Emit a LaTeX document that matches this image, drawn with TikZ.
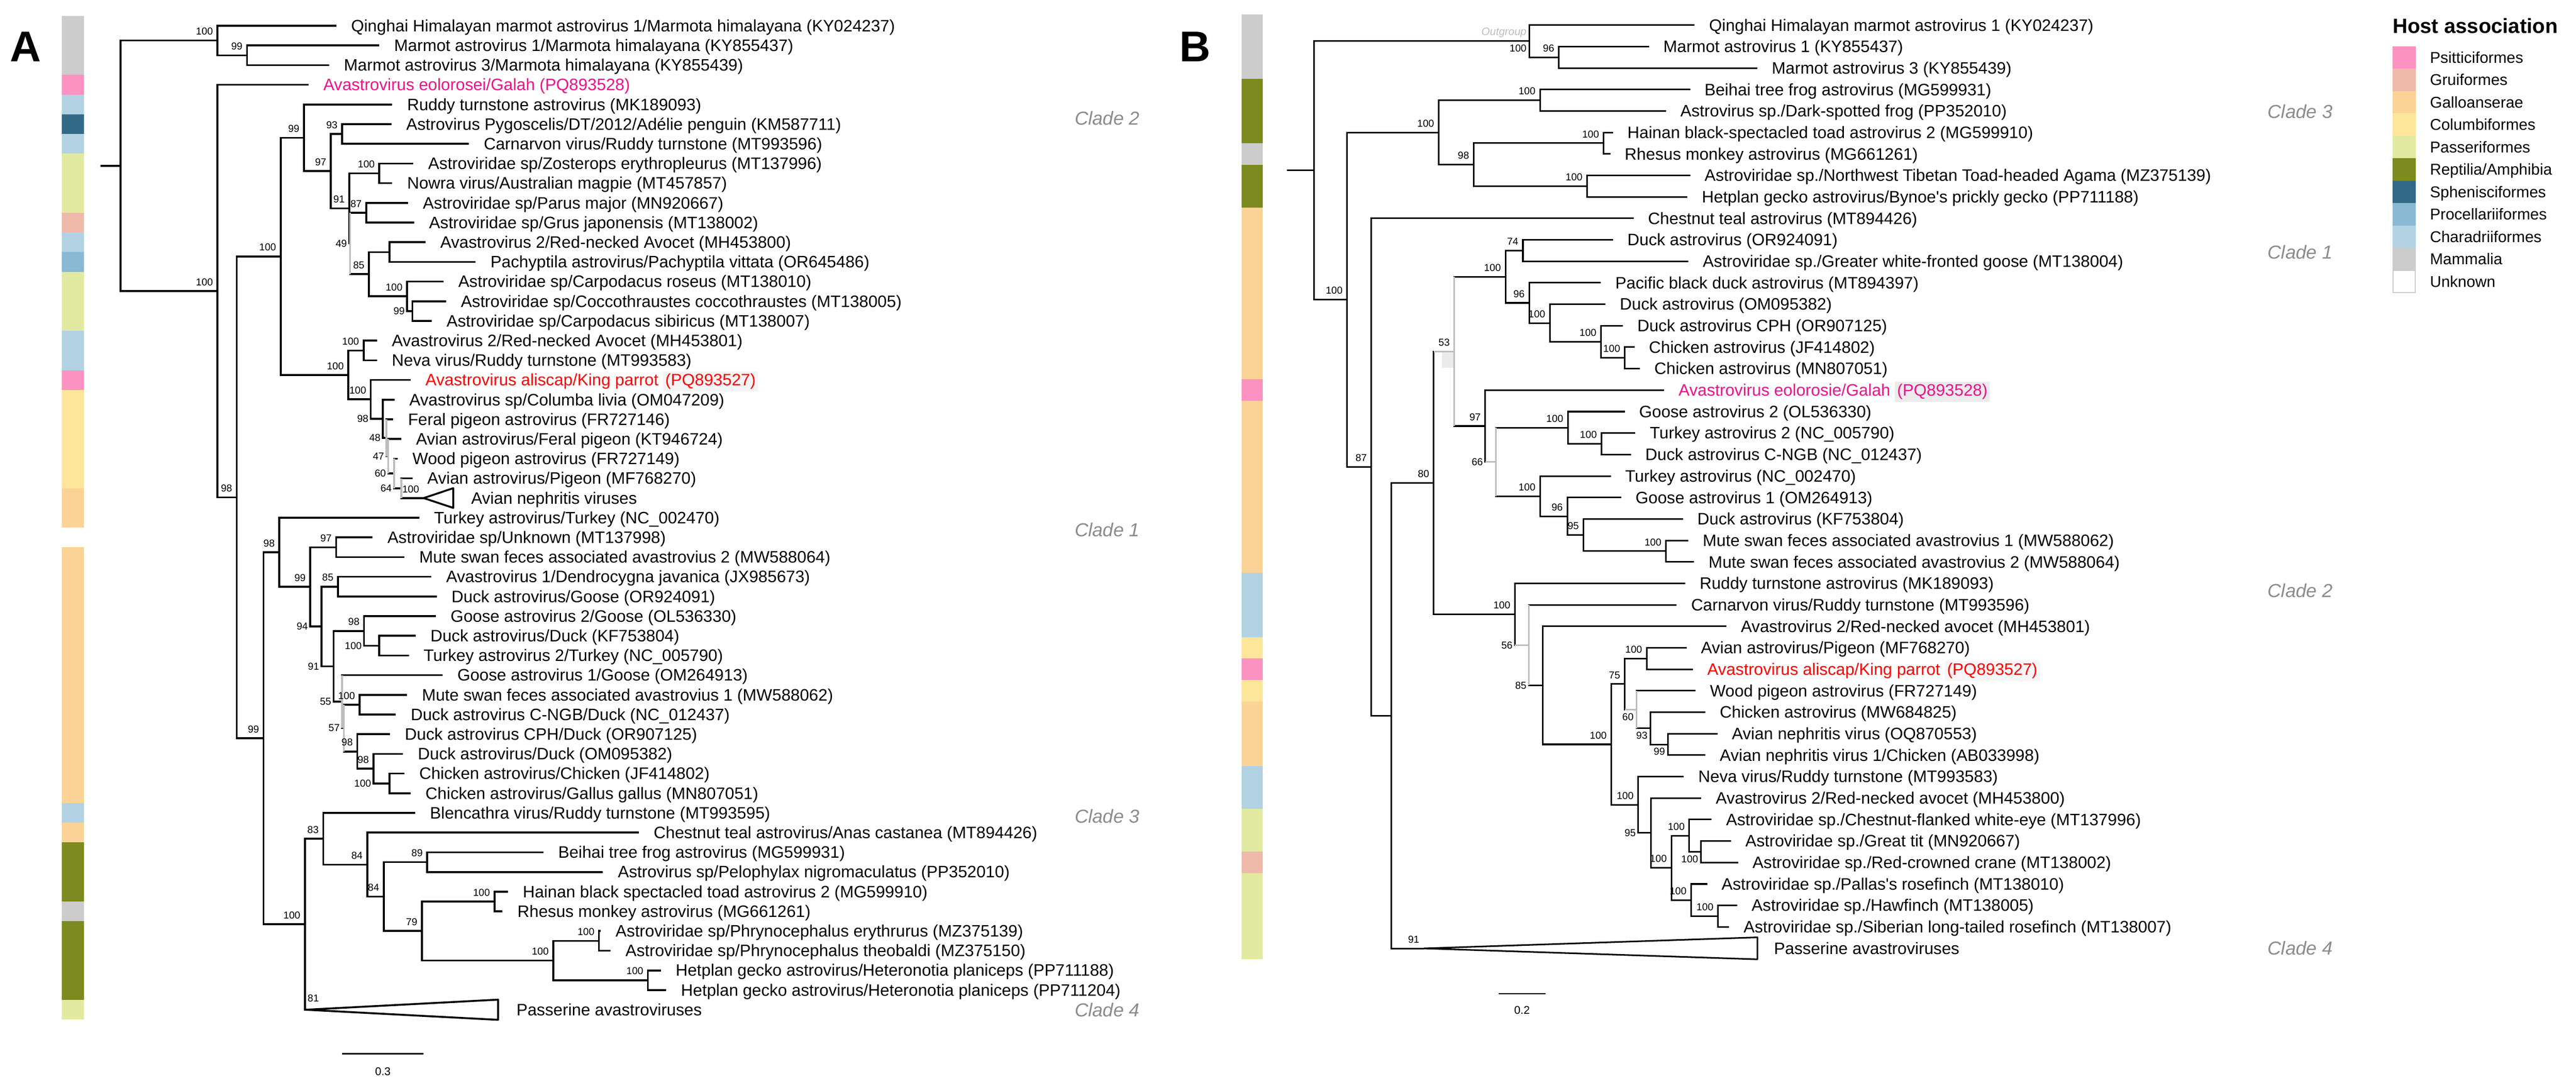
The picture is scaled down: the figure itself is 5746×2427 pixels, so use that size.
\documentclass[tikz,border=0pt]{standalone}
\usepackage{fontspec}
\setmainfont{Liberation Sans}
\usepackage{tikz}
\usetikzlibrary{calc}

\definecolor{cPsi}{HTML}{FC92C1}
\definecolor{cGru}{HTML}{EFB9AA}
\definecolor{cGal}{HTML}{FBD396}
\definecolor{cCol}{HTML}{FDE59A}
\definecolor{cPas}{HTML}{E2EAA1}
\definecolor{cRep}{HTML}{7C8A1F}
\definecolor{cSph}{HTML}{336A87}
\definecolor{cPro}{HTML}{8AB9D4}
\definecolor{cCha}{HTML}{B2D2E3}
\definecolor{cMam}{HTML}{CCCCCC}
\definecolor{cUnk}{HTML}{FFFFFF}
\definecolor{galah}{HTML}{EE1289}
\definecolor{parrot}{HTML}{FF0000}
\definecolor{cladegray}{HTML}{8C8C8C}
\definecolor{lowgray}{HTML}{BDBDBD}
\definecolor{hlA}{HTML}{F4F4F4}
\definecolor{hlB}{HTML}{EBEBEB}
\definecolor{hlC}{HTML}{F6F6F6}

\tikzset{brA/.style={line width=4.2pt}}
\tikzset{brB/.style={line width=3.5pt}}
\tikzset{lowA/.style={brA,draw=lowgray}}
\tikzset{lowB/.style={brB,draw=lowgray}}
\tikzset{lfA/.style={anchor=base west,inner sep=0pt,xshift=33pt,yshift=-13pt,font=\fontsize{37}{40}\selectfont}}
\tikzset{lfB/.style={anchor=base west,inner sep=0pt,xshift=32pt,yshift=-13pt,font=\fontsize{37}{40}\selectfont}}
\tikzset{sup/.style={anchor=south east,inner sep=0pt,xshift=-10pt,yshift=12pt,font=\fontsize{22.5}{24}\selectfont}}
\tikzset{supl/.style={anchor=east,inner sep=0pt,xshift=-5pt,font=\fontsize{22.5}{24}\selectfont}}
\tikzset{supd/.style={anchor=north east,inner sep=0pt,xshift=-6pt,yshift=-8pt,font=\fontsize{22.5}{24}\selectfont}}
\tikzset{clade/.style={anchor=base west,inner sep=0pt,yshift=-15pt,font=\fontsize{42}{44}\selectfont\itshape,text=cladegray}}
\tikzset{legtxt/.style={anchor=base west,inner sep=0pt,yshift=-12.5pt,font=\fontsize{35}{37}\selectfont}}

\newcommand{\hlbox}[2]{{\setlength{\fboxsep}{5pt}\colorbox{#1}{#2}}}
\newcommand{\leafA}[3]{\coordinate (a#2) at (#1,{57.5+43.9*(#2-1)}); \node[lfA] (ta#2) at (a#2) {#3};}
\newcommand{\leafB}[3]{\coordinate (b#2) at (#1,{56+47.9*(#2-1)}); \node[lfB] (tb#2) at (b#2) {#3};}

\begin{document}
\begin{tikzpicture}[x=1pt,y=-1pt]
\useasboundingbox (0,0) rectangle (5746,2427);

%% panel letters
\node[anchor=base west,inner sep=0pt,font=\bfseries\fontsize{96}{100}\selectfont] (pA) at (22,137) {A};
\node[anchor=base west,inner sep=0pt,font=\bfseries\fontsize{96}{100}\selectfont] (pB) at (2631,137) {B};

%% host colour bars
\foreach \c [count=\i] in {Mam,Mam,Mam,Psi,Cha,Sph,Cha,Pas,Pas,Pas,Gru,Cha,Pro,Pas,Pas,Pas,Cha,Cha,Psi,Col,Col,Col,Col,Col,Gal,Gal,Unk,Gal,Gal,Gal,Gal,Gal,Gal,Gal,Gal,Gal,Gal,Gal,Gal,Gal,Cha,Gal,Rep,Rep,Rep,Mam,Rep,Rep,Rep,Rep,Pas}
  \fill[c\c] (138,{35.5+43.9*(\i-1)}) rectangle ++(49,43.9);
\foreach \c [count=\i] in {Mam,Mam,Mam,Rep,Rep,Rep,Mam,Rep,Rep,Gal,Gal,Gal,Gal,Gal,Gal,Gal,Gal,Psi,Gal,Gal,Gal,Gal,Gal,Gal,Gal,Gal,Cha,Cha,Cha,Col,Psi,Col,Gal,Gal,Gal,Cha,Cha,Pas,Pas,Gru,Pas,Pas,Pas,Pas}
  \fill[c\c] (2769,{32+47.9*(\i-1)}) rectangle ++(48,47.9);

%% ---------------- panel A ----------------
\leafA{750}{1}{Qinghai Himalayan marmot astrovirus 1/Marmota himalayana (KY024237)}
\leafA{846}{2}{Marmot astrovirus 1/Marmota himalayana (KY855437)}
\leafA{734}{3}{Marmot astrovirus 3/Marmota himalayana (KY855439)}
\leafA{688}{4}{\textcolor{galah}{Avastrovirus eolorosei/Galah (PQ893528)}}
\leafA{875}{5}{Ruddy turnstone astrovirus (MK189093)}
\leafA{873}{6}{Astrovirus Pygoscelis/DT/2012/Adélie penguin (KM587711)}
\leafA{1046}{7}{Carnarvon virus/Ruddy turnstone (MT993596)}
\leafA{922}{8}{Astroviridae sp/Zosterops erythropleurus (MT137996)}
\leafA{875}{9}{Nowra virus/Australian magpie (MT457857)}
\leafA{910}{10}{Astroviridae sp/Parus major (MN920667)}
\leafA{924}{11}{Astroviridae sp/Grus japonensis (MT138002)}
\leafA{949}{12}{Avastrovirus 2/Red-necked Avocet (MH453800)}
\leafA{1061}{13}{Pachyptila astrovirus/Pachyptila vittata (OR645486)}
\leafA{989}{14}{Astroviridae sp/Carpodacus roseus (MT138010)}
\leafA{995}{15}{Astroviridae sp/Coccothraustes coccothraustes (MT138005)}
\leafA{963}{16}{Astroviridae sp/Carpodacus sibiricus (MT138007)}
\leafA{841}{17}{Avastrovirus 2/Red-necked Avocet (MH453801)}
\leafA{841}{18}{Neva virus/Ruddy turnstone (MT993583)}
\leafA{916}{19}{\textcolor{parrot}{Avastrovirus aliscap/King parrot \hlbox{hlA}{(PQ893527)}}}
\leafA{880}{20}{Avastrovirus sp/Columba livia (OM047209)}
\leafA{877}{21}{Feral pigeon astrovirus (FR727146)}
\leafA{895}{22}{Avian astrovirus/Feral pigeon (KT946724)}
\leafA{887}{23}{Wood pigeon astrovirus (FR727149)}
\leafA{920}{24}{Avian astrovirus/Pigeon (MF768270)}
\leafA{1018}{25}{Avian nephritis viruses}
\leafA{935}{26}{Turkey astrovirus/Turkey (NC\_002470)}
\leafA{831}{27}{Astroviridae sp/Unknown (MT137998)}
\leafA{902}{28}{Mute swan feces associated avastrovius 2 (MW588064)}
\leafA{962}{29}{Avastrovirus 1/Dendrocygna javanica (JX985673)}
\leafA{974}{30}{Duck astrovirus/Goose (OR924091)}
\leafA{972}{31}{Goose astrovirus 2/Goose (OL536330)}
\leafA{927}{32}{Duck astrovirus/Duck (KF753804)}
\leafA{912}{33}{Turkey astrovirus 2/Turkey (NC\_005790)}
\leafA{987}{34}{Goose astrovirus 1/Goose (OM264913)}
\leafA{908}{35}{Mute swan feces associated avastrovius 1 (MW588062)}
\leafA{883}{36}{Duck astrovirus C-NGB/Duck (NC\_012437)}
\leafA{870}{37}{Duck astrovirus CPH/Duck (OR907125)}
\leafA{899}{38}{Duck astrovirus/Duck (OM095382)}
\leafA{902}{39}{Chicken astrovirus/Chicken (JF414802)}
\leafA{916}{40}{Chicken astrovirus/Gallus gallus (MN807051)}
\leafA{926}{41}{Blencathra virus/Ruddy turnstone (MT993595)}
\leafA{1425}{42}{Chestnut teal astrovirus/Anas castanea (MT894426)}
\leafA{1212}{43}{Beihai tree frog astrovirus (MG599931)}
\leafA{1345}{44}{Astrovirus sp/Pelophylax nigromaculatus (PP352010)}
\leafA{1133}{45}{Hainan black spectacled toad astrovirus 2 (MG599910)}
\leafA{1121}{46}{Rhesus monkey astrovirus (MG661261)}
\leafA{1340}{47}{Astroviridae sp/Phrynocephalus erythrurus (MZ375139)}
\leafA{1362}{48}{Astroviridae sp/Phrynocephalus theobaldi (MZ375150)}
\leafA{1474}{49}{Hetplan gecko astrovirus/Heteronotia planiceps (PP711188)}
\leafA{1486}{50}{Hetplan gecko astrovirus/Heteronotia planiceps (PP711204)}
\leafA{1119}{51}{Passerine avastroviruses}

\coordinate (aRs) at (224,369.85);
\coordinate (aR) at (269,369.85);
\coordinate (aM) at (485,90.4);
\coordinate (aM2) at (551,123.35);
\coordinate (aB) at (485,649.3);
\coordinate (aC) at (528,1109.45);
\coordinate (aD) at (626,571.95);
\coordinate (aF) at (678,307.5);
\coordinate (aH) at (738,381.9);
\coordinate (aI) at (763,298.95);
\coordinate (aJ) at (779,464.9);
\coordinate (aK) at (846,386.75);
\coordinate (aL) at (781,543.1);
\coordinate (aN) at (817,474.55);
\coordinate (aO) at (823,611.7);
\coordinate (aP) at (869,562.35);
\coordinate (aQ) at (908,661.1);
\coordinate (aS) at (920,694.05);
\coordinate (aG) at (777,836.4);
\coordinate (aT) at (811,781.85);
\coordinate (aU) at (827,890.9);
\coordinate (aV) at (854,934.1);
\coordinate (aW) at (862,976.65);
\coordinate (aX) at (866,1017.8);
\coordinate (aY) at (879,1056.2);
\coordinate (aZ) at (895,1089.15);
\coordinate (aTri) at (945,1111.1);
\coordinate (aE) at (588,1646.95);
\coordinate (aAA) at (623,1232.1);
\coordinate (aAC) at (692,1309.2);
\coordinate (aAD) at (750,1220.85);
\coordinate (aAE) at (717,1397.5);
\coordinate (aAF) at (754,1308.65);
\coordinate (aAG) at (744,1486.3);
\coordinate (aAH) at (812,1407.4);
\coordinate (aAJ) at (846,1440.35);
\coordinate (aAI) at (763,1565.2);
\coordinate (aAK) at (767,1624.2);
\coordinate (aAL) at (802,1572.05);
\coordinate (aAM) at (797,1676.3);
\coordinate (aAN) at (833,1714.7);
\coordinate (aAO) at (869,1747.65);
\coordinate (aAB) at (680,2061.8);
\coordinate (aAP) at (721,1871.1);
\coordinate (aAQ) at (819,1928.75);
\coordinate (aAR) at (856,2000.1);
\coordinate (aAS) at (953,1923.25);
\coordinate (aAT) at (941,2076.9);
\coordinate (aAU) at (1103,2011.05);
\coordinate (aAV) at (1234,2142.75);
\coordinate (aAW) at (1336,2098.85);
\coordinate (aAX) at (1445,2186.65);
\coordinate (aPas) at (682,2252.5);

\draw[brA] (aRs) -- (aR);
\foreach \p/\c in {aR/aM,aR/aB,aM/a1,aM/aM2,aM2/a2,aM2/a3,aB/a4,aB/aC,aC/aD,aC/aE,
  aD/aF,aD/aG,aF/a5,aF/aH,aH/aI,aH/aJ,aI/a6,aI/a7,aJ/aK,aJ/aL,aK/a8,aK/a9,
  aL/aN,aL/aO,aN/a10,aN/a11,aO/aP,aO/aQ,aP/a12,aP/a13,aQ/a14,aQ/aS,aS/a15,aS/a16,
  aG/aT,aG/aU,aT/a17,aT/a18,aU/a19,aU/aV,aV/a20,aV/aW,aW/a21,aW/aX,aX/a22,aX/aY,
  aY/a23,aY/aZ,aZ/a24,aZ/aTri,aE/aAA,aE/aAB,aAA/a26,aAA/aAC,aAC/aAD,aAC/aAE,
  aAD/a27,aAD/a28,aAE/aAF,aAE/aAG,aAF/a29,aAF/a30,aAG/aAH,aAG/aAI,aAH/a31,aAH/aAJ,
  aAJ/a32,aAJ/a33,aAI/a34,aAI/aAK,aAK/aAL,aAK/aAM,aAL/a35,aAL/a36,aAM/a37,aAM/aAN,
  aAN/a38,aAN/aAO,aAO/a39,aAO/a40,aAB/aAP,aAB/aPas,aAP/a41,aAP/aAQ,aAQ/a42,aAQ/aAR,
  aAR/aAS,aAR/aAT,aAS/a43,aAS/a44,aAT/aAU,aAT/aAV,aAU/a45,aAU/a46,aAV/aAW,aAV/aAX,
  aAW/a47,aAW/a48,aAX/a49,aAX/a50}
  \draw[brA] (\p) |- (\c);
%% weakly supported nodes
\foreach \n/\u/\d in {aL/aN/aO,aW/a21/aX,aX/a22/aY,aY/a23/aZ,aZ/a24/aTri,aAI/a34/aAK,aAK/aAL/aAM}
  \draw[lowA] (\n |- \u) -- (\n |- \d);
\draw[brA,line join=round] (aTri) -- (1011,1089) -- (1011,1133) -- cycle;
\draw[brA,line join=round] (aPas) -- (1111,2230) -- (1111,2275) -- cycle;

\foreach \n/\v in {aM/100,aM2/99,aB/100,aC/98,aD/100,aF/99,aH/97,aI/93,aJ/91,aK/100,aN/87,aO/85,aQ/100,
  aG/100,aT/100,aU/100,aTri/100,aE/99,aAA/98,aAC/99,aAD/97,aAF/85,aAH/98,aAL/100,aAM/98,aAN/98,
  aAB/100,aAP/83,aAQ/84,aAR/84,aAS/89,aAT/79,aAU/100,aAV/100,aAW/100,aAX/100}
  \node[sup] at (\n) {\v};
\foreach \p/\n/\v in {aJ/aL/49,aQ/aS/99,aU/aV/98,aV/aW/48,aW/aX/47,aX/aY/60,aY/aZ/64,
  aAC/aAE/94,aAE/aAG/91,aAH/aAJ/100,aAG/aAI/55,aAI/aAK/57,aAN/aAO/100}
  \node[supl] at (\p |- \n) {\v};
\node[sup,anchor=south west,xshift=14pt,yshift=6pt] at (aPas) {81};

\node[clade] (cA2) at (2397,264) {Clade 2};
\node[clade] (cA1) at (2397,1182) {Clade 1};
\node[clade] (cA3) at (2397,1821) {Clade 3};
\node[clade] (cA4) at (2397,2253) {Clade 4};

\coordinate (sA1) at (763,2351);
\coordinate (sA2) at (945,2351);
\draw[line width=3pt] (sA1) -- (sA2);
\node[font=\fontsize{25}{27}\selectfont,inner sep=0pt] (sA) at (854,2390) {0.3};

%% ---------------- panel B ----------------
\leafB{3780}{1}{Qinghai Himalayan marmot astrovirus 1 (KY024237)}
\leafB{3678}{2}{Marmot astrovirus 1 (KY855437)}
\leafB{3920}{3}{Marmot astrovirus 3 (KY855439)}
\leafB{3770}{4}{Beihai tree frog astrovirus (MG599931)}
\leafB{3716}{5}{Astrovirus sp./Dark-spotted frog (PP352010)}
\leafB{3598}{6}{Hainan black-spectacled toad astrovirus 2 (MG599910)}
\leafB{3592}{7}{Rhesus monkey astrovirus (MG661261)}
\leafB{3770}{8}{Astroviridae sp./Northwest Tibetan Toad-headed Agama (MZ375139)}
\leafB{3764}{9}{Hetplan gecko astrovirus/Bynoe\textquotesingle s prickly gecko (PP711188)}
\leafB{3644}{10}{Chestnut teal astrovirus (MT894426)}
\leafB{3598}{11}{Duck astrovirus (OR924091)}
\leafB{3766}{12}{Astroviridae sp./Greater white-fronted goose (MT138004)}
\leafB{3571}{13}{Pacific black duck astrovirus (MT894397)}
\leafB{3581}{14}{Duck astrovirus (OM095382)}
\leafB{3620}{15}{Duck astrovirus CPH (OR907125)}
\leafB{3646}{16}{Chicken astrovirus (JF414802)}
\leafB{3658}{17}{Chicken astrovirus (MN807051)}
\leafB{3712}{18}{\textcolor{galah}{Avastrovirus eolorosie/Galah \hlbox{hlB}{(PQ893528)}}}
\leafB{3624}{19}{Goose astrovirus 2 (OL536330)}
\leafB{3648}{20}{Turkey astrovirus 2 (NC\_005790)}
\leafB{3638}{21}{Duck astrovirus C-NGB (NC\_012437)}
\leafB{3593}{22}{Turkey astrovirus (NC\_002470)}
\leafB{3616}{23}{Goose astrovirus 1 (OM264913)}
\leafB{3754}{24}{Duck astrovirus (KF753804)}
\leafB{3766}{25}{Mute swan feces associated avastrovius 1 (MW588062)}
\leafB{3779}{26}{Mute swan feces associated avastrovius 2 (MW588064)}
\leafB{3759}{27}{Ruddy turnstone astrovirus (MK189093)}
\leafB{3740}{28}{Carnarvon virus/Ruddy turnstone (MT993596)}
\leafB{3851}{29}{Avastrovirus 2/Red-necked avocet (MH453801)}
\leafB{3762}{30}{Avian astrovirus/Pigeon (MF768270)}
\leafB{3776}{31}{\textcolor{parrot}{Avastrovirus aliscap/King parrot \hlbox{hlC}{(PQ893527)}}}
\leafB{3782}{32}{Wood pigeon astrovirus (FR727149)}
\leafB{3804}{33}{Chicken astrovirus (MW684825)}
\leafB{3831}{34}{Avian nephritis virus (OQ870553)}
\leafB{3804}{35}{Avian nephritis virus 1/Chicken (AB033998)}
\leafB{3756}{36}{Neva virus/Ruddy turnstone (MT993583)}
\leafB{3795}{37}{Avastrovirus 2/Red-necked avocet (MH453800)}
\leafB{3818}{38}{Astroviridae sp./Chestnut-flanked white-eye (MT137996)}
\leafB{3861}{39}{Astroviridae sp./Great tit (MN920667)}
\leafB{3877}{40}{Astroviridae sp./Red-crowned crane (MT138002)}
\leafB{3808}{41}{Astroviridae sp./Pallas\textquotesingle s rosefinch (MT138010)}
\leafB{3875}{42}{Astroviridae sp./Hawfinch (MT138005)}
\leafB{3857}{43}{Astroviridae sp./Siberian long-tailed rosefinch (MT138007)}
\leafB{3925}{44}{Passerine avastroviruses}

\coordinate (bRs) at (2871,380.25);
\coordinate (bR) at (2931,380.25);
\coordinate (bO) at (3411,91.9);
\coordinate (bO2) at (3477,127.85);
\coordinate (bA) at (3005,668.6);
\coordinate (bB) at (3209,295.5);
\coordinate (bD) at (3435,223.65);
\coordinate (bE) at (3287,367.35);
\coordinate (bF) at (3577,319.45);
\coordinate (bG) at (3540,415.25);
\coordinate (bC) at (3059,1041.75);
\coordinate (bH) at (3103,1596.4);
\coordinate (bI) at (3198,1077.05);
\coordinate (bJ) at (3244,783.85);
\coordinate (bL) at (3358,617.3);
\coordinate (bN) at (3397,558.95);
\coordinate (bP) at (3411,675.7);
\coordinate (bQ) at (3457,720.6);
\coordinate (bS) at (3571,762.5);
\coordinate (bT) at (3624,798.45);
\coordinate (bM) at (3313,950.4);
\coordinate (bU) at (3337,1030.45);
\coordinate (bV) at (3497,954.1);
\coordinate (bX) at (3572,990.05);
\coordinate (bW) at (3435,1106.8);
\coordinate (bY) at (3496,1151.7);
\coordinate (bZ) at (3532,1193.6);
\coordinate (bZa) at (3716,1229.55);
\coordinate (bK) at (3379,1370.25);
\coordinate (bK2) at (3410,1439.1);
\coordinate (bK3) at (3441,1528.9);
\coordinate (bK4) at (3594,1660.6);
\coordinate (bK5) at (3624,1525.9);
\coordinate (bK7) at (3673,1469.05);
\coordinate (bK8) at (3650,1582.8);
\coordinate (bK9) at (3681,1624.7);
\coordinate (bK10) at (3720,1660.65);
\coordinate (bK6) at (3654,1795.35);
\coordinate (bK11) at (3683,1858.2);
\coordinate (bK12) at (3728,1936.05);
\coordinate (bK13) at (3768,1864.2);
\coordinate (bK15) at (3794,1900.15);
\coordinate (bK14) at (3772,2007.9);
\coordinate (bK16) at (3832,2043.85);
\coordinate (bPas) at (3176,2115.7);

\draw[brB] (bRs) -- (bR);
\foreach \p/\c in {bR/bO,bR/bA,bO/b1,bO/bO2,bO2/b2,bO2/b3,bA/bB,bA/bC,bB/bD,bB/bE,bD/b4,bD/b5,
  bE/bF,bE/bG,bF/b6,bF/b7,bG/b8,bG/b9,bC/b10,bC/bH,bH/bI,bH/bPas,bI/bJ,bI/bK,bJ/bL,bJ/bM,
  bL/bN,bL/bP,bN/b11,bN/b12,bP/b13,bP/bQ,bQ/b14,bQ/bS,bS/b15,bS/bT,bT/b16,bT/b17,
  bM/b18,bM/bU,bU/bV,bU/bW,bV/b19,bV/bX,bX/b20,bX/b21,bW/b22,bW/bY,bY/b23,bY/bZ,bZ/b24,bZ/bZa,
  bZa/b25,bZa/b26,bK/b27,bK/bK2,bK2/b28,bK2/bK3,bK3/b29,bK3/bK4,bK4/bK5,bK4/bK6,bK5/bK7,bK5/bK8,
  bK7/b30,bK7/b31,bK8/b32,bK8/bK9,bK9/b33,bK9/bK10,bK10/b34,bK10/b35,bK6/b36,bK6/bK11,
  bK11/b37,bK11/bK12,bK12/bK13,bK12/bK14,bK13/b38,bK13/bK15,bK15/b39,bK15/b40,bK14/b41,bK14/bK16,
  bK16/b42,bK16/b43}
  \draw[brB] (\p) |- (\c);
%% weakly supported nodes
\fill[hlB] (3216,786) rectangle (3244,821);
\foreach \p/\n/\u/\d in {bI/bJ/bL/bM,bM/bU/bV/bW,bK/bK2/b28/bK3,bK5/bK8/b32/bK9}
  \draw[lowB] (\p |- \n) -- (\n) (\n |- \u) -- (\n |- \d);
\draw[brB,line join=round] (bPas) -- (3920,2091) -- (3920,2140) -- cycle;

\foreach \n/\v in {bO2/96,bA/100,bB/100,bD/100,bE/98,bF/100,bG/100,bC/87,bI/80,bJ/53,bL/100,bN/74,
  bP/96,bQ/100,bS/100,bT/100,bM/97,bV/100,bX/100,bW/100,bY/96,bZ/95,bZa/100,bK/100,bK4/100,
  bK5/75,bK7/100,bK6/100,bK12/100,bK13/100,bK14/100,bK16/100,bPas/91}
  \node[sup] at (\n) {\v};
\foreach \p/\n/\v in {bM/bU/66,bK/bK2/56,bK2/bK3/85,bK6/bK11/95}
  \node[supl] at (\p |- \n) {\v};
\foreach \n/\v in {bO/100,bK8/60,bK9/93,bK10/99,bK15/100}
  \node[supd] at (\n) {\v};
\node[anchor=south east,inner sep=0pt,xshift=-6pt,yshift=8pt,font=\fontsize{24}{26}\selectfont\itshape,text=lowgray] (outg) at (bO) {Outgroup};

\node[clade] (cB3) at (5058,249) {Clade 3};
\node[clade] (cB1) at (5058,562) {Clade 1};
\node[clade] (cB2) at (5058,1318) {Clade 2};
\node[clade] (cB4) at (5058,2115) {Clade 4};

\coordinate (sB1) at (3343,2217);
\coordinate (sB2) at (3447,2217);
\draw[line width=3pt] (sB1) -- (sB2);
\node[font=\fontsize{25}{27}\selectfont,inner sep=0pt] (sB) at (3395,2253) {0.2};

%% ---------------- legend ----------------
\node[anchor=base west,inner sep=0pt,font=\bfseries\fontsize{46}{48}\selectfont] (legt) at (5337,74) {Host association};
\foreach \c/\t [count=\i] in {Psi/Psitticiformes,Gru/Gruiformes,Gal/Galloanserae,Col/Columbiformes,
  Pas/Passeriformes,Rep/{Reptilia/Amphibia},Sph/Sphenisciformes,Pro/Procellariiformes,Cha/Charadriiformes,Mam/Mammalia}
{
  \fill[c\c] (5337,{103+50*(\i-1)}) rectangle ++(51,50);
  \node[legtxt] (leg\i) at (5420,{128+50*(\i-1)}) {\t};
}
\draw[cMam,line width=2pt,fill=white] (5338,604) rectangle (5387,653);
\node[legtxt] (leg11) at (5420,628) {Unknown};
\end{tikzpicture}
\end{document}
